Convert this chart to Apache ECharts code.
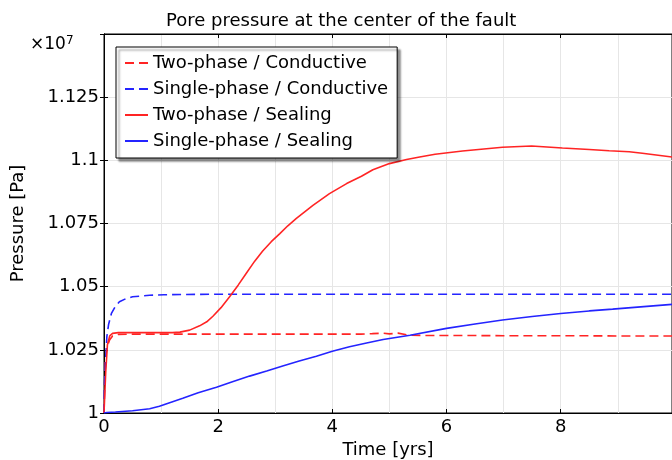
<!DOCTYPE html>
<html>
<head>
<meta charset="utf-8">
<script src="https://cdn.jsdelivr.net/npm/echarts@6/dist/echarts.min.js"></script>
<style>
  html, body { margin: 0; padding: 0; background: #fff; }
  #chart { width: 672px; height: 460px; }
</style>
</head>
<body>
<div id="chart"></div>
<script>
// pressure values in units of 1e7 Pa, time in years
var seriesNames = ['Two-phase / Conductive', 'Single-phase / Conductive', 'Two-phase / Sealing', 'Single-phase / Sealing'];

var tpCondT = [0, 0.02, 0.05, 0.1, 0.15, 0.25, 0.5, 1, 2, 3, 4, 4.5, 4.7, 4.89, 5.0, 5.15, 5.33, 5.6, 6, 7, 8, 9, 9.95];
var tpCondP = [1, 1.02, 1.026, 1.029, 1.0305, 1.0311, 1.0312, 1.0312, 1.0312, 1.0312, 1.0312, 1.0312, 1.0314, 1.0316, 1.0313, 1.0316, 1.0308, 1.0307, 1.0307, 1.0306, 1.0306, 1.0305, 1.0305];

var spCondT = [0, 0.01, 0.03, 0.05, 0.08, 0.13, 0.2, 0.27, 0.38, 0.5, 0.65, 0.8, 1.05, 1.38, 2, 4, 6, 8, 9.95];
var spCondP = [1, 1.012, 1.021, 1.0302, 1.035, 1.0394, 1.0422, 1.044, 1.0452, 1.046, 1.0463, 1.0466, 1.0468, 1.0469, 1.047, 1.047, 1.047, 1.047, 1.047];

var tpSealT = [0, 0.03, 0.06, 0.1, 0.15, 0.25, 0.5, 1, 1.2, 1.33, 1.5, 1.675, 1.8, 1.908, 2.05, 2.2, 2.35, 2.49, 2.64, 2.78, 2.93, 3.08, 3.22, 3.37, 3.66, 3.95, 4.25, 4.51, 4.71, 5.0, 5.3, 5.53, 5.8, 6.28, 6.98, 7.49, 8.03, 8.5, 8.85, 9.2, 9.43, 9.95];
var tpSealP = [1, 1.016, 1.027, 1.0305, 1.0315, 1.0318, 1.0318, 1.0318, 1.0318, 1.032, 1.0328, 1.0345, 1.0361, 1.0383, 1.0417, 1.046, 1.0506, 1.0552, 1.0601, 1.0641, 1.0678, 1.071, 1.0741, 1.077, 1.0822, 1.0868, 1.0908, 1.0937, 1.0963, 1.0987, 1.1003, 1.1013, 1.1024, 1.1037, 1.1052, 1.1057, 1.1049, 1.1043, 1.1038, 1.1034, 1.1028, 1.1013];

var spSealT = [0, 0.05, 0.2, 0.5, 0.8, 0.97, 1.15, 1.38, 1.65, 1.97, 2.25, 2.55, 2.85, 3.13, 3.42, 3.72, 4.0, 4.3, 4.6, 4.89, 5.36, 6, 6.5, 6.98, 7.5, 8, 8.5, 8.91, 9.4, 9.95];
var spSealP = [1, 1.0002, 1.0004, 1.0009, 1.0017, 1.0027, 1.0041, 1.0058, 1.008, 1.0102, 1.0124, 1.0146, 1.0166, 1.0186, 1.0206, 1.0225, 1.0244, 1.0262, 1.0277, 1.0291, 1.0308, 1.0335, 1.0352, 1.0368, 1.0382, 1.0394, 1.0404, 1.0411, 1.042, 1.043];

var xMin = 0, xMax = 9.95, xStep = 2;
var yMin = 1, yMax = 1.15, yStep = 0.025;

function pairs(t, p) {
  return t.map(function (x, i) { return [x, p[i]]; });
}

var font = 'DejaVu Sans';
var red = '#ff2424';
var blue = '#2424ff';
var dash = [9, 5];

function mkSeries(name, t, p, color, dashed) {
  return {
    name: name,
    type: 'line',
    data: pairs(t, p),
    showSymbol: false,
    symbol: 'none',
    color: color,
    lineStyle: { color: color, width: 1.6, type: dashed ? dash : 'solid' },
    animation: false
  };
}

var chart = echarts.init(document.getElementById('chart'));

var gridLine = { show: true, lineStyle: { color: '#e6e6e6', width: 1 } };

chart.setOption({
  backgroundColor: '#fff',
  animation: false,
  textStyle: { fontFamily: font },
  title: {
    text: 'Pore pressure at the center of the fault',
    left: 161, top: 7,
    textStyle: { fontFamily: font, fontSize: 18, fontWeight: 'normal', color: '#000' }
  },
  grid: {
    left: 104, top: 34, right: 0, bottom: 47,
    outerBoundsMode: 'none', containLabel: false,
    show: true, borderColor: '#000', borderWidth: 1, backgroundColor: 'transparent'
  },
  legend: {
    left: 116, top: 47,
    orient: 'vertical',
    data: seriesNames,
    itemWidth: 23, itemHeight: 18, itemGap: 8,
    padding: [7, 9, 8, 8],
    backgroundColor: '#fff',
    borderColor: '#000', borderWidth: 1,
    shadowColor: 'rgba(0,0,0,0.45)', shadowBlur: 2, shadowOffsetX: 3, shadowOffsetY: 3,
    itemStyle: { opacity: 0 },
    textStyle: { fontFamily: font, fontSize: 18, color: '#000' }
  },
  xAxis: [{
    type: 'value', min: xMin, max: xMax, interval: xStep,
    name: 'Time [yrs]', nameLocation: 'middle', nameGap: 25,
    nameTextStyle: { fontFamily: font, fontSize: 18, color: '#000' },
    axisLine: { show: true, onZero: false, lineStyle: { color: '#000' } },
    axisTick: { show: true, inside: true, length: 4, lineStyle: { color: '#000' } },
    axisLabel: { fontFamily: font, fontSize: 18, color: '#000', margin: 5, showMaxLabel: false },
    splitLine: gridLine,
    minorTick: { show: false, splitNumber: 2 },
    minorSplitLine: gridLine
  }, {
    type: 'value', position: 'top', min: xMin, max: xMax, interval: xStep,
    axisLine: { show: true, lineStyle: { color: '#000' } },
    axisTick: { show: true, inside: true, length: 4, lineStyle: { color: '#000' } },
    axisLabel: { show: false },
    splitLine: { show: false }
  }],
  yAxis: [{
    type: 'value', min: yMin, max: yMax, interval: yStep,
    name: 'Pressure [Pa]', nameLocation: 'middle', nameGap: 77,
    nameTextStyle: { fontFamily: font, fontSize: 18, color: '#000' },
    axisLine: { show: true, onZero: false, lineStyle: { color: '#000' } },
    axisTick: { show: true, inside: true, length: 4, lineStyle: { color: '#000' } },
    axisLabel: { fontFamily: font, fontSize: 18, color: '#000', margin: 5, showMaxLabel: false },
    splitLine: gridLine
  }, {
    type: 'value', position: 'right', min: yMin, max: yMax, interval: yStep,
    axisLine: { show: true, lineStyle: { color: '#000' } },
    axisTick: { show: true, inside: true, length: 4, lineStyle: { color: '#000' } },
    axisLabel: { show: false },
    splitLine: { show: false }
  }],
  graphic: [{
    type: 'text', left: 30, top: 35,
    style: {
      text: '×10{s|7}',
      font: '17px "DejaVu Sans"',
      fill: '#000',
      rich: { s: { fontSize: 12, fontFamily: font, verticalAlign: 'top', padding: [0, 0, 8, 0], fill: '#000' } }
    }
  }],
  series: [
    mkSeries(seriesNames[0], tpCondT, tpCondP, red, true),
    mkSeries(seriesNames[1], spCondT, spCondP, blue, true),
    mkSeries(seriesNames[2], tpSealT, tpSealP, red, false),
    mkSeries(seriesNames[3], spSealT, spSealP, blue, false)
  ]
});
</script>
</body>
</html>
